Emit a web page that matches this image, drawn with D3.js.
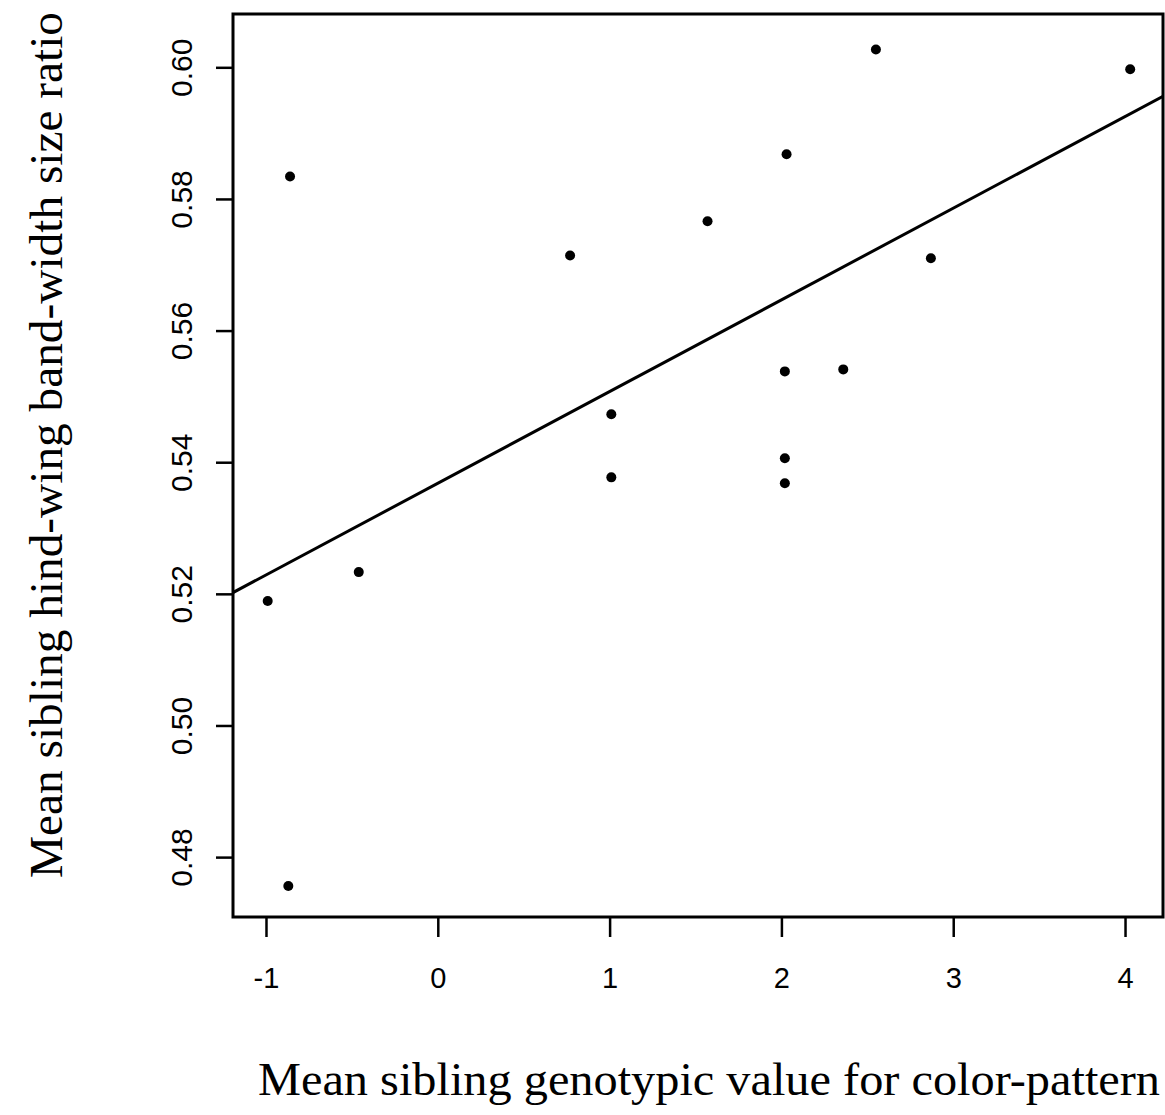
<!DOCTYPE html>
<html>
<head>
<meta charset="utf-8">
<script src="https://cdn.jsdelivr.net/npm/d3@7"></script>
<style>
  body { margin: 0; background: #fff; }
  svg { display: block; }
</style>
</head>
<body>
<script>
// sibling genotype (x) vs hind-wing band-width size ratio (y)
var xVals = [-0.99, -0.86, -0.87, -0.46, 0.77, 1.01, 1.01, 1.57, 2.03, 2.02, 2.02, 2.02, 2.36, 2.55, 2.87, 4.03];
var yVals = [0.5189, 0.5834, 0.4756, 0.5233, 0.5714, 0.5473, 0.5377, 0.5766, 0.5868, 0.5538, 0.5406, 0.5368, 0.5541, 0.6027, 0.5710, 0.5997];
var xTicks = [-1, 0, 1, 2, 3, 4];
var yTicks = [0.48, 0.50, 0.52, 0.54, 0.56, 0.58, 0.60];
// fitted line y = a + b*x
var fitA = 0.5368, fitB = 0.01393;

var W = 1165, H = 1115;
var margin = {top: 14, right: 2, bottom: 198, left: 233};
var width = W - margin.left - margin.right,
    height = H - margin.top - margin.bottom;

var svg = d3.select("body").append("svg")
    .attr("width", W)
    .attr("height", H);

var g = svg.append("g")
    .attr("transform", "translate(" + margin.left + "," + margin.top + ")");

var x = d3.scaleLinear().domain([-1.192, 4.221]).range([0, width]);
var y = d3.scaleLinear().domain([0.4709, 0.6081]).range([height, 0]);

// x axis (plain hyphen for negatives, like the original)
var xAxis = g.append("g")
    .attr("transform", "translate(0," + height + ")")
    .call(d3.axisBottom(x).tickValues(xTicks).tickSize(20).tickPadding(30)
      .tickFormat(function(d){ return String(d); }));
xAxis.select(".domain").remove();
xAxis.selectAll("line").attr("stroke-width", 2.5);
xAxis.selectAll("text")
    .style("font-family", "'Liberation Sans', Arial, sans-serif")
    .style("font-size", "29px")
    .attr("fill", "#000");

// y axis, labels rotated
var yAxis = g.append("g")
    .call(d3.axisLeft(y).tickValues(yTicks).tickSize(17).tickFormat(d3.format(".2f")));
yAxis.select(".domain").remove();
yAxis.selectAll("line").attr("stroke-width", 2.5);
yAxis.selectAll("text")
    .attr("x", null).attr("dy", null)
    .attr("text-anchor", "middle")
    .attr("transform", "translate(-41,0) rotate(-90)")
    .style("font-family", "'Liberation Sans', Arial, sans-serif")
    .style("font-size", "30px")
    .attr("fill", "#000");

// box
g.append("rect")
    .attr("width", width)
    .attr("height", height)
    .attr("fill", "none")
    .attr("stroke", "#000")
    .attr("stroke-width", 3);

// regression line
g.append("clipPath").attr("id", "plotclip")
  .append("rect").attr("width", width).attr("height", height);
var dom = x.domain();
g.append("line")
    .attr("clip-path", "url(#plotclip)")
    .attr("x1", x(dom[0])).attr("y1", y(fitA + fitB * dom[0]))
    .attr("x2", x(dom[1])).attr("y2", y(fitA + fitB * dom[1]))
    .attr("stroke", "#000")
    .attr("stroke-width", 3);

// points
g.selectAll("circle.pt")
    .data(d3.range(xVals.length))
  .enter().append("circle")
    .attr("class", "pt")
    .attr("cx", function(i){ return x(xVals[i]); })
    .attr("cy", function(i){ return y(yVals[i]); })
    .attr("r", 5)
    .attr("fill", "#000");

// axis titles
svg.append("text")
    .attr("x", 258)
    .attr("y", 1095)
    .attr("textLength", 902)
    .attr("lengthAdjust", "spacingAndGlyphs")
    .style("font-family", "'Liberation Serif', 'Times New Roman', serif")
    .style("font-size", "47px")
    .text("Mean sibling genotypic value for color-pattern");

svg.append("text")
    .attr("transform", "translate(62,878) rotate(-90)")
    .attr("textLength", 866)
    .attr("lengthAdjust", "spacingAndGlyphs")
    .style("font-family", "'Liberation Serif', 'Times New Roman', serif")
    .style("font-size", "47px")
    .text("Mean sibling hind-wing band-width size ratio");
</script>
</body>
</html>
